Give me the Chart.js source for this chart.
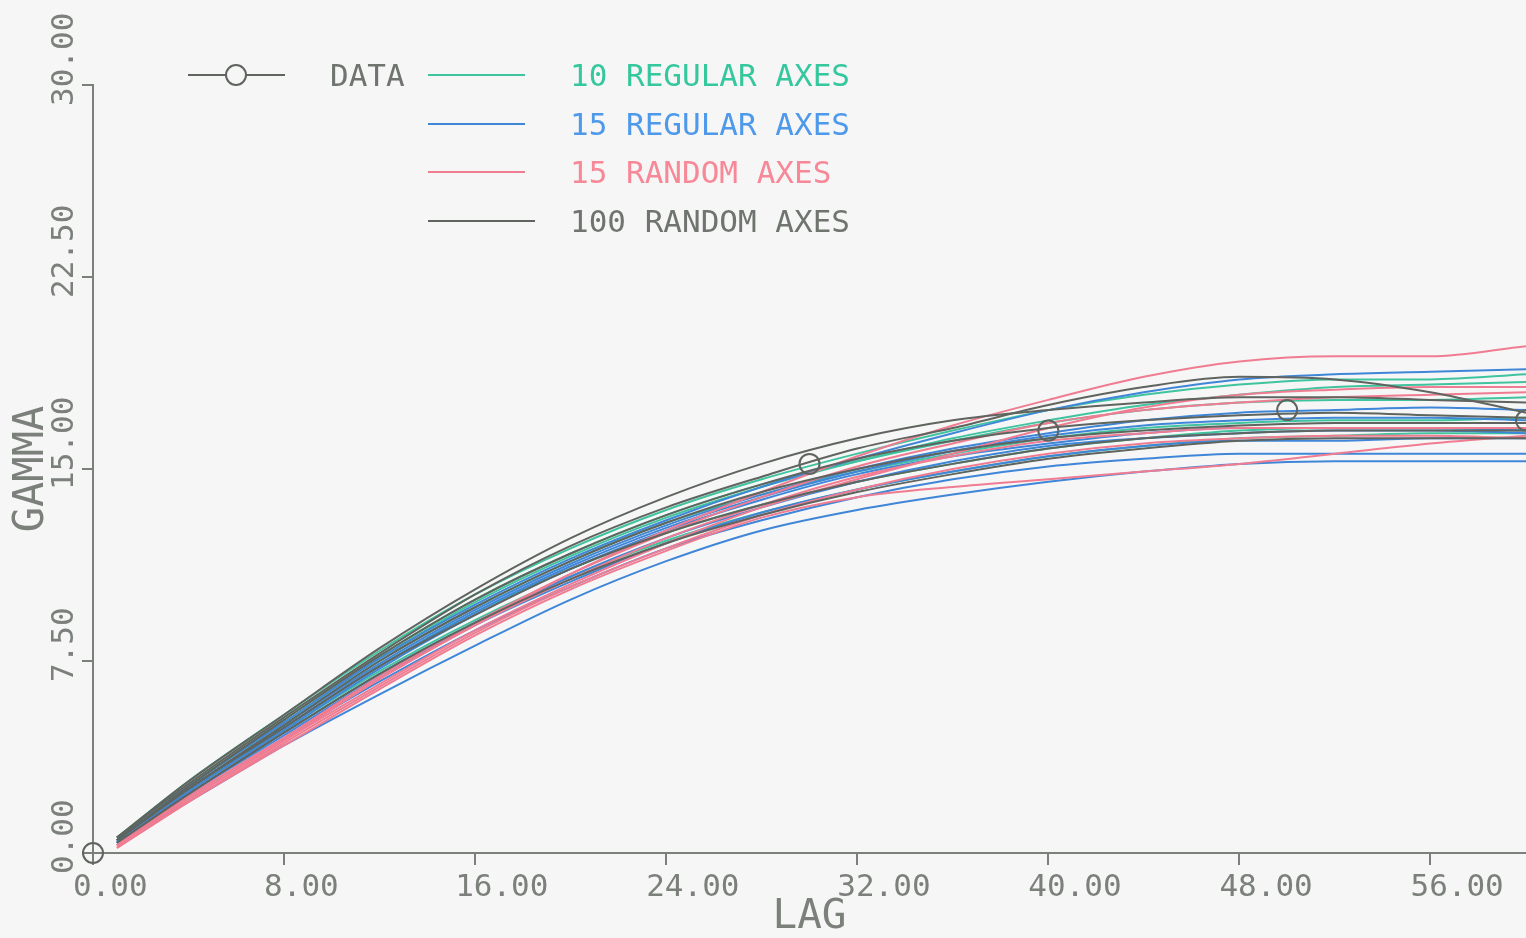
<!DOCTYPE html>
<html>
<head>
<meta charset="utf-8">
<script src="https://cdn.jsdelivr.net/npm/chart.js@4/dist/chart.umd.min.js"></script>
<style>
html,body{margin:0;padding:0;background:#f6f6f6;}
#wrap{width:1526px;height:938px;position:relative;}
canvas{display:block;}
</style>
</head>
<body>
<div id="wrap"><canvas id="c" width="1526" height="938"></canvas></div>
<script>
// ---- data ----
const lags = [1, 4, 8, 12, 16, 20, 24, 28, 32, 36, 40, 44, 48, 52, 56, 60];

const reg10 = [
  [0.6,2.8,5.4,7.9,10.1,11.9,13.4,14.6,15.6,16.5,17.3,17.9,18.3,18.5,18.5,18.7],
  [0.5,2.6,5.2,7.7,9.9,11.7,13.2,14.4,15.3,16.1,16.8,17.3,17.6,17.7,17.7,17.8],
  [0.5,2.5,5.0,7.5,9.6,11.4,12.9,14.0,14.9,15.6,16.2,16.6,16.8,16.9,16.9,17.0],
  [0.5,2.5,4.9,7.3,9.4,11.1,12.5,13.6,14.5,15.2,15.8,16.2,16.5,16.6,16.6,16.5],
  [0.4,2.4,4.8,7.1,9.1,10.8,12.2,13.3,14.2,14.9,15.5,15.9,16.2,16.3,16.4,16.4],
  [0.5,2.6,5.1,7.6,9.8,11.6,13.1,14.3,15.3,16.2,16.9,17.5,17.9,18.2,18.3,18.4]
];
const reg15 = [
  [0.5,2.6,5.1,7.6,9.7,11.5,13.0,14.3,15.4,16.4,17.3,18.0,18.5,18.7,18.8,18.9],
  [0.5,2.5,5.0,7.4,9.5,11.3,12.8,14.0,15.0,15.8,16.4,16.9,17.2,17.3,17.4,17.3],
  [0.4,2.4,4.8,7.2,9.3,11.1,12.6,13.8,14.8,15.5,16.0,16.4,16.6,16.6,16.6,16.5],
  [0.4,2.3,4.7,7.0,9.0,10.8,12.3,13.5,14.5,15.3,15.9,16.2,16.4,16.5,16.5,16.4],
  [0.4,2.3,4.6,6.9,8.9,10.6,12.1,13.3,14.2,14.9,15.5,15.9,16.1,16.1,16.2,16.2],
  [0.4,2.2,4.5,6.7,8.7,10.4,11.9,13.0,13.9,14.6,15.1,15.4,15.6,15.6,15.6,15.6],
  [0.4,2.0,4.2,6.2,8.1,9.9,11.4,12.6,13.4,14.0,14.5,14.9,15.2,15.3,15.3,15.3],
  [0.5,2.5,4.9,7.3,9.4,11.2,12.7,13.9,14.9,15.7,16.3,16.7,16.9,17.0,17.0,16.9]
];
const rand15 = [
  [0.3,2.1,4.4,6.8,8.9,10.9,12.6,14.1,15.5,16.7,17.7,18.6,19.2,19.4,19.4,19.8],
  [0.2,2.0,4.2,6.4,8.5,10.3,11.8,13.1,13.9,14.3,14.6,14.9,15.2,15.6,16.0,16.3],
  [0.3,2.2,4.5,6.8,8.9,10.7,12.3,13.6,14.7,15.5,16.1,16.4,16.6,16.6,16.6,16.6],
  [0.3,2.1,4.4,6.6,8.7,10.5,12.1,13.5,14.6,15.6,16.6,17.4,17.9,18.1,18.2,18.2],
  [0.2,2.0,4.3,6.5,8.6,10.4,11.9,13.2,14.2,15.0,15.6,16.0,16.2,16.3,16.3,16.2],
  [0.3,2.2,4.5,6.9,9.0,10.9,12.5,13.9,15.1,16.0,16.8,17.3,17.6,17.8,17.9,18.0]
];
const rand100 = [
  [0.6,2.8,5.4,8.0,10.3,12.3,13.9,15.2,16.2,16.9,17.3,17.6,17.8,17.8,17.7,17.6],
  [0.6,2.7,5.3,7.8,10.1,12.0,13.5,14.7,15.8,16.6,17.5,18.2,18.6,18.5,18.0,17.2],
  [0.5,2.6,5.2,7.7,9.9,11.7,13.2,14.4,15.4,16.1,16.6,16.9,17.1,17.2,17.1,17.0],
  [0.5,2.5,5.0,7.5,9.6,11.4,12.9,14.1,15.0,15.7,16.2,16.5,16.7,16.8,16.8,16.8],
  [0.5,2.5,4.9,7.3,9.3,11.1,12.5,13.6,14.5,15.2,15.8,16.2,16.4,16.5,16.5,16.5],
  [0.4,2.3,4.7,7.0,9.0,10.7,12.1,13.2,14.1,14.8,15.4,15.8,16.1,16.2,16.2,16.2]
];

const dataLags  = [0, 30, 40, 50, 60];
const dataGamma = [0, 15.2, 16.5, 17.3, 16.9];

const groupNames = ['10 REGULAR AXES', '15 REGULAR AXES', '15 RANDOM AXES', '100 RANDOM AXES'];
const xTickLabels = ['0.00','8.00','16.00','24.00','32.00','40.00','48.00','56.00'];
const yTickLabels = ['0.00','7.50','15.00','22.50','30.00'];

// ---- styles ----
const FONT = '"DejaVu Sans Mono", monospace';
const AXIS = '#7b807b';
const lineColors = ['#3fc49f', '#3f86d8', '#f07c92', '#5f645f'];
const textColors = ['#35c79d', '#4f99ea', '#f78898', '#6f746f'];

const groups = [reg10, reg15, rand15, rand100];
const datasets = [];
datasets.push({
  label: 'DATA',
  data: dataLags.map((x, i) => ({x, y: dataGamma[i]})),
  showLine: false,
  clip: false,
  pointRadius: 10,
  pointBorderWidth: 2,
  pointBorderColor: '#5f645f',
  pointBackgroundColor: 'rgba(0,0,0,0)',
  borderColor: '#5f645f'
});
for (let g = groups.length - 1; g >= 0; g--) {
  groups[g].forEach((curve, k) => {
    datasets.push({
      label: groupNames[g] + ' ' + (k + 1),
      data: lags.map((x, i) => ({x, y: curve[i]})),
      showLine: true,
      borderColor: lineColors[g],
      backgroundColor: lineColors[g],
      borderWidth: 2,
      pointRadius: 0,
      cubicInterpolationMode: 'monotone',
      fill: false
    });
  });
}

const yLabelPlugin = {
  id: 'yLabels',
  afterDraw(chart) {
    const ctx = chart.ctx;
    const ys = chart.scales.y;
    ctx.save();
    ctx.fillStyle = AXIS;
    ctx.font = '31px ' + FONT;
    ctx.textAlign = 'left';
    ctx.textBaseline = 'middle';
    ys.ticks.forEach((t, i) => {
      const py = ys.getPixelForValue(t.value);
      ctx.save();
      ctx.translate(65, py + 21);
      ctx.rotate(-Math.PI / 2);
      ctx.fillText(yTickLabels[i] || '', 0, 0);
      ctx.restore();
    });
    ctx.restore();
  }
};

const legendPlugin = {
  id: 'customLegend',
  afterDraw(chart) {
    const ctx = chart.ctx;
    ctx.save();
    ctx.lineWidth = 2;
    ctx.strokeStyle = '#5f645f';
    ctx.beginPath(); ctx.moveTo(188, 75); ctx.lineTo(285, 75); ctx.stroke();
    ctx.fillStyle = '#f6f6f6';
    ctx.beginPath(); ctx.arc(236, 75, 10, 0, Math.PI * 2); ctx.fill(); ctx.stroke();
    ctx.font = '31px ' + FONT;
    ctx.textAlign = 'left';
    ctx.textBaseline = 'alphabetic';
    ctx.fillStyle = '#6f746f';
    ctx.fillText('DATA', 330, 86);
    const rows = [75, 124, 172, 221];
    groupNames.forEach((name, g) => {
      ctx.strokeStyle = lineColors[g];
      ctx.beginPath(); ctx.moveTo(428, rows[g]); ctx.lineTo(g === 3 ? 535 : 525, rows[g]); ctx.stroke();
      ctx.fillStyle = textColors[g];
      ctx.fillText(name, 570, rows[g] + 11);
    });
    ctx.restore();
  }
};

new Chart(document.getElementById('c'), {
  type: 'scatter',
  data: { datasets },
  plugins: [yLabelPlugin, legendPlugin],
  options: {
    responsive: false,
    animation: false,
    events: [],
    layout: { autoPadding: false, padding: { top: 85, left: 0, right: 0, bottom: 0 } },
    plugins: { legend: { display: false }, tooltip: { enabled: false } },
    scales: {
      x: {
        type: 'linear',
        min: 0, max: 60,
        afterFit(s) { s.height = 85; s.paddingRight = 0; s.paddingLeft = 0; },
        border: { display: true, color: AXIS, width: 2 },
        grid: { display: true, drawOnChartArea: false, drawTicks: true, tickLength: 12, color: AXIS, lineWidth: 2 },
        ticks: {
          stepSize: 8, includeBounds: false, align: 'start', labelOffset: -20, padding: 4,
          color: AXIS, font: { family: FONT, size: 31 },
          maxRotation: 0, minRotation: 0, autoSkip: false,
          callback: (v, i) => xTickLabels[i] !== undefined ? xTickLabels[i] : ''
        },
        title: { display: true, text: 'LAG', color: AXIS, font: { family: FONT, size: 41, lineHeight: 1 }, padding: { top: 0, bottom: 0 } }
      },
      y: {
        type: 'linear',
        min: 0, max: 30,
        afterFit(s) { s.width = 93; s.paddingTop = 0; s.paddingBottom = 0; },
        border: { display: true, color: AXIS, width: 2 },
        grid: { display: true, drawOnChartArea: false, drawTicks: true, tickLength: 11, color: AXIS, lineWidth: 2 },
        ticks: { stepSize: 7.5, display: false },
        title: { display: true, text: 'GAMMA', color: AXIS, font: { family: FONT, size: 42, lineHeight: 1 }, padding: { top: 11, bottom: 0 } }
      }
    }
  }
});
</script>
</body>
</html>
